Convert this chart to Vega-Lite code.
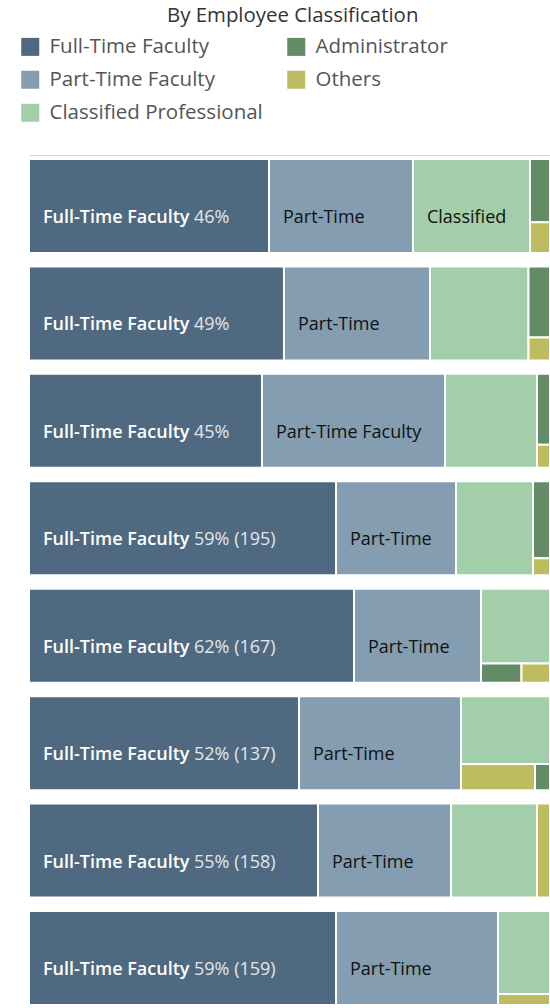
{
  "$schema": "https://vega.github.io/schema/vega-lite/v6.json",
  "padding": {"left": 20, "top": 5, "right": 0, "bottom": 3},
  "bounds": "flush",
  "title": {"text": "By Employee Classification", "anchor": "start", "frame": "group", "dx": 138, "offset": 10.5, "font": "Open Sans", "fontSize": 20.4, "fontWeight": "normal", "color": "#333333"},
  "data": {"values": [
    {"row": 1, "category": "Full-Time Faculty", "x0": 0, "x1": 46.07, "y0": 0, "y1": 100, "label": "Full-Time Faculty", "detail": "46%"},
    {"row": 1, "category": "Part-Time Faculty", "x0": 46.07, "x1": 73.7, "y0": 0, "y1": 100, "label": "Part-Time"},
    {"row": 1, "category": "Classified Professional", "x0": 73.7, "x1": 96.16, "y0": 0, "y1": 100, "label": "Classified"},
    {"row": 1, "category": "Administrator", "x0": 96.16, "x1": 100, "y0": 0, "y1": 67.4},
    {"row": 1, "category": "Others", "x0": 96.16, "x1": 100, "y0": 67.4, "y1": 100},
    {"row": 2, "category": "Full-Time Faculty", "x0": 0, "x1": 48.94, "y0": 0, "y1": 100, "label": "Full-Time Faculty", "detail": "49%"},
    {"row": 2, "category": "Part-Time Faculty", "x0": 48.94, "x1": 76.97, "y0": 0, "y1": 100, "label": "Part-Time"},
    {"row": 2, "category": "Classified Professional", "x0": 76.97, "x1": 95.87, "y0": 0, "y1": 100},
    {"row": 2, "category": "Administrator", "x0": 95.87, "x1": 100, "y0": 0, "y1": 75.5},
    {"row": 2, "category": "Others", "x0": 95.87, "x1": 100, "y0": 75.5, "y1": 100},
    {"row": 3, "category": "Full-Time Faculty", "x0": 0, "x1": 44.72, "y0": 0, "y1": 100, "label": "Full-Time Faculty", "detail": "45%"},
    {"row": 3, "category": "Part-Time Faculty", "x0": 44.72, "x1": 79.85, "y0": 0, "y1": 100, "label": "Part-Time Faculty"},
    {"row": 3, "category": "Classified Professional", "x0": 79.85, "x1": 97.5, "y0": 0, "y1": 100},
    {"row": 3, "category": "Administrator", "x0": 97.5, "x1": 100, "y0": 0, "y1": 75.3},
    {"row": 3, "category": "Others", "x0": 97.5, "x1": 100, "y0": 75.3, "y1": 100},
    {"row": 4, "category": "Full-Time Faculty", "x0": 0, "x1": 58.93, "y0": 0, "y1": 100, "label": "Full-Time Faculty", "detail": "59% (195)"},
    {"row": 4, "category": "Part-Time Faculty", "x0": 58.93, "x1": 81.96, "y0": 0, "y1": 100, "label": "Part-Time"},
    {"row": 4, "category": "Classified Professional", "x0": 81.96, "x1": 96.74, "y0": 0, "y1": 100},
    {"row": 4, "category": "Administrator", "x0": 96.74, "x1": 100, "y0": 0, "y1": 81.9},
    {"row": 4, "category": "Others", "x0": 96.74, "x1": 100, "y0": 81.9, "y1": 100},
    {"row": 5, "category": "Full-Time Faculty", "x0": 0, "x1": 62.38, "y0": 0, "y1": 100, "label": "Full-Time Faculty", "detail": "62% (167)"},
    {"row": 5, "category": "Part-Time Faculty", "x0": 62.38, "x1": 86.76, "y0": 0, "y1": 100, "label": "Part-Time"},
    {"row": 5, "category": "Classified Professional", "x0": 86.76, "x1": 100, "y0": 0, "y1": 79.5},
    {"row": 5, "category": "Administrator", "x0": 86.76, "x1": 94.53, "y0": 79.5, "y1": 100},
    {"row": 5, "category": "Others", "x0": 94.53, "x1": 100, "y0": 79.5, "y1": 100},
    {"row": 6, "category": "Full-Time Faculty", "x0": 0, "x1": 51.82, "y0": 0, "y1": 100, "label": "Full-Time Faculty", "detail": "52% (137)"},
    {"row": 6, "category": "Part-Time Faculty", "x0": 51.82, "x1": 82.92, "y0": 0, "y1": 100, "label": "Part-Time"},
    {"row": 6, "category": "Classified Professional", "x0": 82.92, "x1": 100, "y0": 0, "y1": 72.3},
    {"row": 6, "category": "Others", "x0": 82.92, "x1": 97.12, "y0": 72.3, "y1": 100},
    {"row": 6, "category": "Administrator", "x0": 97.12, "x1": 100, "y0": 72.3, "y1": 100},
    {"row": 7, "category": "Full-Time Faculty", "x0": 0, "x1": 55.47, "y0": 0, "y1": 100, "label": "Full-Time Faculty", "detail": "55% (158)"},
    {"row": 7, "category": "Part-Time Faculty", "x0": 55.47, "x1": 81.0, "y0": 0, "y1": 100, "label": "Part-Time"},
    {"row": 7, "category": "Classified Professional", "x0": 81.0, "x1": 97.5, "y0": 0, "y1": 100},
    {"row": 7, "category": "Others", "x0": 97.5, "x1": 100, "y0": 0, "y1": 100},
    {"row": 8, "category": "Full-Time Faculty", "x0": 0, "x1": 58.93, "y0": 0, "y1": 100, "label": "Full-Time Faculty", "detail": "59% (159)"},
    {"row": 8, "category": "Part-Time Faculty", "x0": 58.93, "x1": 90.02, "y0": 0, "y1": 100, "label": "Part-Time"},
    {"row": 8, "category": "Classified Professional", "x0": 90.02, "x1": 100, "y0": 0, "y1": 88.3},
    {"row": 8, "category": "Others", "x0": 90.02, "x1": 100, "y0": 88.3, "y1": 100}
  ]},
  "facet": {"row": {"field": "row", "type": "ordinal", "header": {"labels": false, "title": null}}},
  "spacing": 13.43,
  "spec": {
    "width": 521,
    "height": 94,
    "layer": [
      {
        "mark": {"type": "rect", "stroke": "#ffffff", "strokeWidth": 2},
        "encoding": {
          "x": {"field": "x0", "type": "quantitative", "scale": {"domain": [0, 100], "nice": false, "zero": false},
                "axis": {"orient": "top", "labels": false, "ticks": false, "grid": false, "title": null, "domainColor": "#d9d9d9", "domainWidth": 1, "offset": 4}},
          "x2": {"field": "x1"},
          "y": {"field": "y0", "type": "quantitative", "scale": {"domain": [0, 100], "reverse": true, "nice": false}, "axis": null},
          "y2": {"field": "y1"},
          "color": {
            "field": "category", "type": "nominal",
            "scale": {
              "domain": ["Full-Time Faculty", "Part-Time Faculty", "Classified Professional", "Administrator", "Others"],
              "range": ["#4f6980", "#849db1", "#a2ceaa", "#638b66", "#bfbb60"]
            },
            "legend": {
              "orient": "none", "legendX": -9, "legendY": -122.5, "columns": 2,
              "title": null,
              "labelFont": "Open Sans", "labelFontSize": 20.5, "labelColor": "#555555", "labelLimit": 400, "labelOffset": 9,
              "symbolType": "square", "symbolSize": 324, "symbolStrokeWidth": 0, "symbolOpacity": 1,
              "rowPadding": 12, "columnPadding": 23
            }
          }
        }
      },
      {
        "transform": [{"filter": "datum.category === 'Full-Time Faculty'"}],
        "mark": {"type": "text", "align": "left", "baseline": "middle", "dx": 14, "dy": 12, "font": "Open Sans", "fontSize": 18, "fontWeight": 600, "color": "#ffffff"},
        "encoding": {
          "x": {"field": "x0", "type": "quantitative"},
          "y": {"datum": 50},
          "text": {"field": "label"}
        }
      },
      {
        "transform": [{"filter": "datum.label && datum.category !== 'Full-Time Faculty'"}],
        "mark": {"type": "text", "align": "left", "baseline": "middle", "dx": 14, "dy": 12, "font": "Open Sans", "fontSize": 18, "fontWeight": 500, "color": "#111111"},
        "encoding": {
          "x": {"field": "x0", "type": "quantitative"},
          "y": {"datum": 50},
          "text": {"field": "label"}
        }
      },
      {
        "transform": [{"filter": "datum.detail"}],
        "mark": {"type": "text", "align": "left", "baseline": "middle", "dx": 165, "dy": 12, "font": "Open Sans", "fontSize": 18, "fontWeight": "normal", "color": "#e3e7eb"},
        "encoding": {
          "x": {"field": "x0", "type": "quantitative"},
          "y": {"datum": 50},
          "text": {"field": "detail"}
        }
      }
    ]
  },
  "config": {"view": {"stroke": null}, "font": "Open Sans"}
}
